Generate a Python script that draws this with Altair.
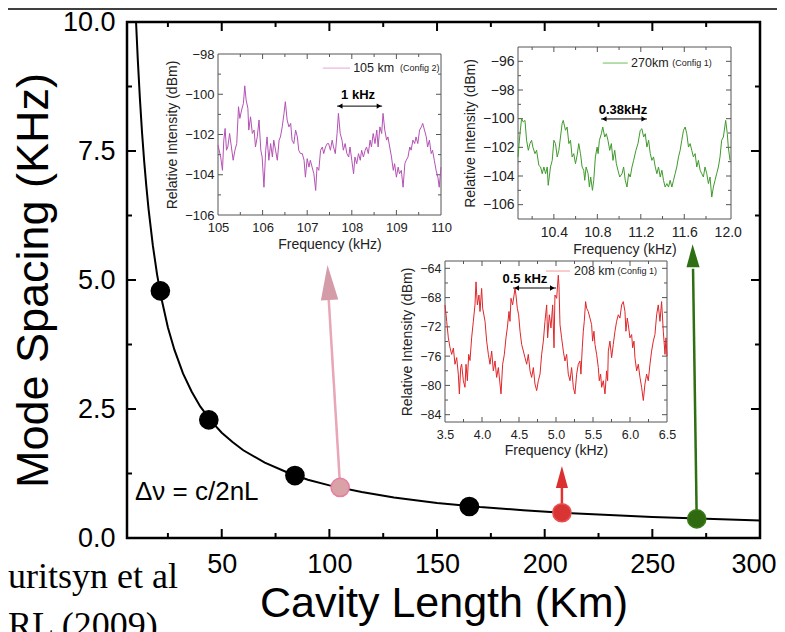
import altair as alt
import pandas as pd

FONT = "Liberation Sans"
SERIF = "Liberation Serif"
W, H = 633, 516

# ---------------- main panel data ----------------
CURVE_L = [10.2, 11, 12, 13, 14, 15, 16, 18, 20, 22, 25, 28, 32, 36, 40, 45, 50, 55, 60, 70,
           80, 90, 100, 115, 130, 150, 170, 190, 210, 230, 250, 275, 300]
CURVE_DV = [10.0, 9.28, 8.51, 7.85, 7.29, 6.81, 6.38, 5.67, 5.10, 4.64, 4.08, 3.65, 3.19, 2.84,
            2.55, 2.27, 2.04, 1.86, 1.70, 1.46, 1.28, 1.13, 1.02, 0.89, 0.785, 0.68, 0.60, 0.54,
            0.486, 0.444, 0.408, 0.371, 0.34]

PT_L = [21.5, 44, 84, 165, 105, 208, 270.6]
PT_DV = [4.79, 2.29, 1.21, 0.61, 0.98, 0.49, 0.37]
PT_FILL = ["#000000", "#000000", "#000000", "#000000", "#d8a2a6", "#d93434", "#2f6a10"]
PT_STROKE = ["#000000", "#000000", "#000000", "#000000", "#e77fa2", "#e85050", "#3b7a18"]

ARROW_TAIL_L = [105, 208, 270.6]
ARROW_TAIL_V = [0.98, 0.49, 0.37]
ARROW_BASE_L = [99.7, 208, 268.9]
ARROW_BASE_V = [4.62, 0.97, 5.22]
ARROW_LINE_COLOR = ["#e8a6b6", "#e03232", "#2f6e12"]
HEAD_L = [99.6, 208, 268.8]
HEAD_V = [4.95, 1.18, 5.47]
HEAD_SIZE = [1225, 484, 529]
HEAD_ANGLE = [356.6, 0, 359]
HEAD_SHAPE = ["M0,-1L-0.5,1L0.5,1Z", "M0,-1L-0.55,1L0.55,1Z", "M0,-1L-0.57,1L0.57,1Z"]
HEAD_COLOR = ["#d49ca8", "#dc3030", "#2f6e12"]

MAIN_X_LABELS = [50, 100, 150, 200, 250, 300]
MAIN_Y_LABELS = [0, 2.5, 5, 7.5, 10]
MAIN_X_MAJOR = [50, 100, 150, 200, 250]
MAIN_X_MINOR = [25, 75, 125, 175, 225, 275]
MAIN_Y_MAJOR = [2.5, 5, 7.5]
MAIN_Y_MINOR = [1.25, 3.75, 6.25, 8.75]

# ---------------- inset 1 : 105 km ----------------
PINK_F = [105.00, 105.06, 105.10, 105.13, 105.16, 105.19, 105.22, 105.26, 105.30, 105.34,
          105.38, 105.42, 105.46, 105.49, 105.53, 105.57, 105.60, 105.63, 105.67, 105.69,
          105.73, 105.77, 105.81, 105.84, 105.88, 105.92, 105.96, 105.99, 106.03, 106.07,
          106.10, 106.14, 106.18, 106.22, 106.25, 106.29, 106.33, 106.37, 106.40, 106.44,
          106.48, 106.51, 106.55, 106.59, 106.63, 106.66, 106.70, 106.74, 106.78, 106.81,
          106.85, 106.89, 106.93, 106.96, 107.00, 107.04, 107.07, 107.11, 107.15, 107.19,
          107.22, 107.26, 107.30, 107.34, 107.37, 107.41, 107.45,
          107.48, 107.52, 107.56, 107.59, 107.63, 107.67, 107.70, 107.74, 107.78, 107.81,
          107.85, 107.89, 107.93, 107.96, 108.00, 108.04, 108.07, 108.11, 108.15, 108.19,
          108.22, 108.26, 108.30, 108.33, 108.37, 108.41, 108.44, 108.48, 108.52, 108.56,
          108.59, 108.63, 108.67, 108.70, 108.74, 108.78, 108.81, 108.85, 108.89, 108.93,
          108.96, 109.00, 109.04, 109.07, 109.11, 109.15, 109.19, 109.22, 109.26, 109.30,
          109.33, 109.37, 109.41, 109.44, 109.48, 109.52, 109.56, 109.59, 109.63, 109.67,
          109.70, 109.74, 109.78, 109.81, 109.85, 109.89, 109.93, 109.96, 110.00]
PINK_DB = [-102.53, -103.12, -103.78, -102.28, -101.70, -102.78, -102.62, -101.95, -102.62, -103.28,
           -102.78, -102.45, -100.62, -101.20, -100.78, -100.45, -99.58, -100.28, -100.70, -101.78,
           -101.12, -101.95, -101.78, -102.62, -102.12, -101.28, -102.78, -103.12, -104.62, -102.78,
           -102.12, -103.28, -102.45, -103.12, -102.28, -102.78, -103.28, -102.28, -102.12, -101.62,
           -100.95, -100.37, -101.28, -101.62, -101.45, -102.28, -102.45, -101.78, -102.12, -102.78,
           -102.95, -102.95, -103.28, -104.12, -103.20, -103.62, -103.28, -103.62, -103.95, -104.78,
           -103.62, -103.78, -102.78, -102.62, -102.95, -102.62, -102.45,
           -102.45, -102.78, -102.28, -102.62, -102.95, -101.95, -100.95, -101.95, -102.28, -102.78,
           -102.45, -102.95, -103.12, -102.62, -103.28, -103.95, -103.12, -103.45, -102.95, -103.28,
           -102.78, -103.12, -102.78, -102.62, -102.95, -102.28, -102.62, -101.95, -102.45, -101.78,
           -102.62, -101.62, -101.95, -100.95, -101.78, -102.28, -102.12, -102.62, -103.12, -103.78,
           -103.45, -104.12, -103.62, -103.95, -103.78, -104.62, -103.45, -103.28, -103.12, -102.62,
           -102.78, -102.28, -102.45, -102.12, -102.45, -101.78, -101.62, -101.45, -101.78, -102.12,
           -102.62, -102.28, -102.95, -102.78, -103.28, -103.78, -104.12, -104.62, -103.62]

# ---------------- inset 2 : 270 km ----------------
GREEN_F = [10.07, 10.088, 10.103, 10.119, 10.134, 10.149, 10.165, 10.180, 10.195, 10.207,
           10.226, 10.241, 10.262, 10.278, 10.293, 10.308, 10.324, 10.339, 10.348, 10.369,
           10.385, 10.400, 10.415, 10.431, 10.446, 10.461, 10.476, 10.486, 10.507, 10.522,
           10.538, 10.553, 10.568, 10.583, 10.599, 10.614, 10.629, 10.645, 10.660, 10.675,
           10.684, 10.697, 10.715, 10.727, 10.739, 10.755, 10.767, 10.782, 10.798, 10.807,
           10.819, 10.837, 10.850, 10.868, 10.883, 10.898, 10.914, 10.929, 10.944, 10.960,
           10.975, 10.990, 11.006, 11.027, 11.042, 11.057, 11.073, 11.088, 11.103, 11.119,
           11.134, 11.155, 11.174, 11.195, 11.210, 11.226, 11.241, 11.256, 11.272, 11.287,
           11.302, 11.317, 11.333, 11.348, 11.363, 11.379, 11.394, 11.409, 11.424, 11.440,
           11.455, 11.470, 11.486, 11.501, 11.516, 11.531, 11.547, 11.562, 11.577, 11.593,
           11.608, 11.623, 11.639, 11.654, 11.669, 11.684, 11.700, 11.715, 11.730, 11.746,
           11.761, 11.776, 11.791, 11.807, 11.822, 11.837, 11.853, 11.868, 11.883, 11.898,
           11.914, 11.929, 11.944, 11.960, 11.981, 11.996, 12.005, 12.021]
GREEN_DB = [-102.67, -101.05, -100.00, -100.23, -100.12, -101.51, -102.21, -101.74, -101.51, -101.98,
            -102.44, -102.21, -103.26, -103.37, -103.84, -103.37, -103.84, -103.37, -104.65, -103.37,
            -102.91, -101.51, -101.74, -102.67, -102.21, -101.28, -100.35, -100.12, -100.81, -100.58,
            -101.74, -101.51, -102.67, -102.44, -103.14, -102.56, -101.74, -102.44, -103.37, -103.60,
            -104.30, -103.37, -103.84, -104.77, -104.07, -105.00, -104.30, -102.67, -101.98, -102.44,
            -101.51, -101.05, -100.58, -101.28, -101.05, -101.51, -102.21, -101.74, -102.91, -102.21,
            -103.14, -103.60, -104.07, -103.84, -103.37, -104.30, -104.77, -103.84, -104.07, -103.37,
            -102.91, -102.21, -101.74, -100.81, -100.70, -101.28, -101.05, -101.98, -101.51, -102.44,
            -102.91, -102.67, -103.37, -103.84, -103.37, -104.07, -103.60, -104.30, -104.77, -104.53,
            -104.77, -104.30, -104.77, -104.30, -103.84, -103.37, -102.67, -102.21, -101.51, -100.81,
            -100.58, -101.05, -101.98, -101.74, -102.21, -102.67, -102.44, -103.37, -102.91, -103.60,
            -103.84, -104.07, -103.37, -103.84, -104.53, -104.07, -105.47, -104.77, -104.30, -103.84,
            -103.37, -102.67, -101.51, -101.28, -100.12, -101.05, -101.98, -102.91]

# ---------------- inset 3 : 208 km ----------------
RED_F = [3.500, 3.523, 3.545, 3.568, 3.590, 3.613, 3.635, 3.658, 3.680, 3.694,
         3.712, 3.725, 3.748, 3.770, 3.784, 3.802, 3.820, 3.838, 3.860, 3.883,
         3.905, 3.919, 3.937, 3.959, 3.973, 3.995, 4.009, 4.041, 4.063, 4.086,
         4.108, 4.131, 4.153, 4.176, 4.198, 4.221, 4.257, 4.279, 4.302, 4.324,
         4.342, 4.365, 4.378, 4.392, 4.414, 4.446, 4.459, 4.477, 4.495, 4.514,
         4.536, 4.559, 4.581, 4.604, 4.626, 4.649, 4.671, 4.694, 4.716, 4.739,
         4.761, 4.784, 4.806, 4.829, 4.851, 4.874, 4.887, 4.910, 4.932, 4.955,
         4.973, 4.986, 5.009, 5.031, 5.040, 5.054, 5.076, 5.099, 5.121, 5.144,
         5.166, 5.189, 5.211, 5.234, 5.256, 5.279, 5.301, 5.324, 5.337, 5.355,
         5.369, 5.382, 5.400, 5.414, 5.436, 5.459, 5.481, 5.495, 5.513, 5.527,
         5.549, 5.572, 5.585, 5.603, 5.617, 5.639, 5.662, 5.684, 5.698, 5.707,
         5.729, 5.752, 5.774, 5.797, 5.819, 5.842, 5.864, 5.887, 5.909, 5.932,
         5.945, 5.963, 5.977, 5.999, 6.022, 6.036, 6.054, 6.067, 6.090, 6.112,
         6.135, 6.157, 6.180, 6.202, 6.225, 6.247, 6.270, 6.292, 6.315, 6.337,
         6.360, 6.382, 6.405, 6.427, 6.450, 6.473, 6.486, 6.500]
RED_DB = [-69.00, -71.25, -73.50, -74.86, -75.76, -74.90, -77.11, -76.20, -78.46, -81.16,
          -77.56, -77.11, -79.36, -80.26, -77.11, -79.36, -75.76, -76.60, -73.50, -71.25,
          -69.00, -65.85, -69.00, -67.65, -69.90, -66.75, -69.45, -71.25, -73.95, -75.76,
          -77.11, -75.31, -78.01, -76.66, -78.91, -77.56, -81.16, -77.11, -75.76, -73.50,
          -72.15, -69.90, -71.25, -68.10, -69.00, -66.75, -67.65, -69.45, -70.35, -72.60,
          -74.41, -75.31, -76.21, -77.11, -75.76, -78.01, -78.91, -77.56, -79.81, -80.71,
          -79.36, -78.46, -75.76, -73.95, -71.25, -69.00, -73.50, -70.35, -72.15, -69.00,
          -74.86, -67.65, -68.10, -64.95, -66.30, -71.70, -73.50, -75.31, -76.66, -75.76,
          -78.46, -79.36, -77.56, -80.26, -81.16, -78.46, -77.11, -76.66, -78.46, -74.86,
          -72.60, -71.25, -68.55, -69.45, -69.90, -70.80, -71.70, -73.95, -72.60, -74.41,
          -75.76, -77.56, -79.36, -78.46, -80.26, -79.36, -81.16, -78.01, -79.36, -75.31,
          -73.95, -76.21, -74.41, -72.60, -71.25, -70.35, -70.80, -69.00, -68.55, -69.90,
          -72.60, -70.80, -71.70, -73.50, -73.05, -74.86, -73.95, -76.21, -78.01, -77.11,
          -78.91, -80.26, -82.06, -79.81, -78.46, -79.36, -77.11, -75.31, -73.95, -73.05,
          -70.35, -69.00, -71.25, -68.55, -72.60, -75.76, -73.50, -76.00]


def tick_rules(xdom, ydom, xr, yr, xmaj, xmin, ymaj, ymin, lmaj, lmin):
    """Inward tick segments expressed in data units of the panel."""
    pxx = (xr[1] - xr[0]) / (xdom[1] - xdom[0])
    pxy = (yr[0] - yr[1]) / (ydom[1] - ydom[0])
    rows = []
    for vals, ln in ((xmaj, lmaj), (xmin, lmin)):
        for v in vals:
            rows.append(dict(x=v, x2=v, y=ydom[0], y2=ydom[0] + ln / pxy))
            rows.append(dict(x=v, x2=v, y=ydom[1], y2=ydom[1] - ln / pxy))
    for vals, ln in ((ymaj, lmaj), (ymin, lmin)):
        for v in vals:
            rows.append(dict(x=xdom[0], x2=xdom[0] + ln / pxx, y=v, y2=v))
            rows.append(dict(x=xdom[1], x2=xdom[1] - ln / pxx, y=v, y2=v))
    return pd.DataFrame(rows)


# ---------------- main panel ----------------
MX_DOM, MY_DOM = [6, 300], [0, 10]
mxs = alt.Scale(domain=MX_DOM, range=[0, W], nice=False, zero=False)
mys = alt.Scale(domain=MY_DOM, range=[H, 0], nice=False, zero=False)
mx_axis = alt.Axis(orient="bottom", values=MAIN_X_LABELS, format="d", labelFontSize=27,
                   labelFont=FONT, labelColor="black", labelPadding=13, ticks=False,
                   domain=False, grid=False, labelFlush=1, labelFlushOffset=16,
                   labelOverlap=False,
                   title="Cavity Length (Km)", titleFont=FONT, titleFontSize=43,
                   titleFontWeight="normal", titleColor="black", titlePadding=5)
my_axis = alt.Axis(orient="left", values=MAIN_Y_LABELS, format=".1f", labelFontSize=27,
                   labelFont=FONT, labelColor="black", labelPadding=12, ticks=False,
                   domain=False, grid=False, labelFlush=False, labelOverlap=False,
                   title="Mode Spacing (KHz)", titleFont=FONT, titleFontSize=45,
                   titleFontWeight="normal", titleColor="black", titlePadding=6)


def MX(f):
    return alt.X(f, type="quantitative", scale=mxs, axis=mx_axis)


def MY(f):
    return alt.Y(f, type="quantitative", scale=mys, axis=my_axis)


curve_df = pd.DataFrame({"L": CURVE_L, "dv": CURVE_DV})
pts_df = pd.DataFrame({"L": PT_L, "dv": PT_DV, "fill": PT_FILL, "stroke": PT_STROKE})
arrow_df = pd.DataFrame({"L": ARROW_TAIL_L, "v": ARROW_TAIL_V, "L2": ARROW_BASE_L,
                         "v2": ARROW_BASE_V, "c": ARROW_LINE_COLOR})
head_df = pd.DataFrame({"L": HEAD_L, "v": HEAD_V, "size": HEAD_SIZE, "angle": HEAD_ANGLE,
                        "shape": HEAD_SHAPE, "c": HEAD_COLOR})
mticks = tick_rules(MX_DOM, MY_DOM, [0, W], [H, 0], MAIN_X_MAJOR, MAIN_X_MINOR,
                    MAIN_Y_MAJOR, MAIN_Y_MINOR, 9, 5)

main_curve = alt.Chart(curve_df).mark_line(color="black", strokeWidth=2, clip=True).encode(
    x=MX("L"), y=MY("dv"))
main_ticks = alt.Chart(mticks).mark_rule(color="black", strokeWidth=2).encode(
    x=MX("x"), x2="x2", y=MY("y"), y2="y2")
main_arrows = alt.Chart(arrow_df).mark_rule(strokeWidth=2.5).encode(
    x=MX("L"), x2="L2", y=MY("v"), y2="v2", color=alt.Color("c:N", scale=None))
main_heads = alt.Chart(head_df).mark_point(filled=True, opacity=1).encode(
    x=MX("L"), y=MY("v"), size=alt.Size("size:Q", scale=None),
    angle=alt.Angle("angle:Q", scale=None), shape=alt.Shape("shape:N", scale=None),
    color=alt.Color("c:N", scale=None))
main_pts = alt.Chart(pts_df).mark_point(filled=True, size=330, opacity=1, strokeWidth=1.5).encode(
    x=MX("L"), y=MY("dv"), fill=alt.Fill("fill:N", scale=None),
    stroke=alt.Stroke("stroke:N", scale=None))
formula = alt.Chart(pd.DataFrame({"L": [9.7], "v": [0.74], "t": ["Δν = c/2nL"]})).mark_text(
    align="left", baseline="alphabetic", font=FONT, fontSize=26, color="black").encode(
    x=MX("L"), y=MY("v"), text="t:N")
top_line = alt.Chart(pd.DataFrame({"a": [0]})).mark_rule(color="black", strokeWidth=1.5).encode(
    x=alt.value(-119), x2=alt.value(650), y=alt.value(-13))
authors = alt.Chart(pd.DataFrame({"t": ["uritsyn et al", "RL (2009)"],
                                  "py": [566, 615]})).mark_text(
    align="left", baseline="alphabetic", font=SERIF, fontSize=36, color="black").encode(
    x=alt.value(-119), y=alt.Y("py:Q", scale=None), text="t:N")

main = alt.layer(main_curve, main_ticks, main_arrows, main_heads, main_pts, formula,
                 top_line, authors)


# ---------------- insets ----------------
def inset(xdom, ydom, xr, yr, f, db, color, xlab, ylab, xfmt, xmaj, xmin, ymaj, ymin,
          label_size, leg, note):
    xs = alt.Scale(domain=xdom, range=xr, nice=False, zero=False)
    ys = alt.Scale(domain=ydom, range=yr, nice=False, zero=False)
    xa = alt.Axis(orient="bottom", offset=-(H - yr[0]), values=xlab, format=xfmt,
                  labelFontSize=label_size, labelFont=FONT, labelColor="#222", labelPadding=6,
                  ticks=False, domain=False, grid=False, labelFlush=False, labelOverlap=False,
                  title="Frequency (kHz)", titleFont=FONT, titleFontSize=14,
                  titleFontWeight="normal", titleColor="#222", titlePadding=3)
    ya = alt.Axis(orient="left", offset=-xr[0], values=ylab, format="d",
                  labelFontSize=label_size, labelFont=FONT, labelColor="#222", labelPadding=4,
                  ticks=False, domain=False, grid=False, labelFlush=False, labelOverlap=False,
                  title="Relative Intensity (dBm)", titleFont=FONT, titleFontSize=14,
                  titleFontWeight="normal", titleColor="#222", titlePadding=5)

    def X(fl):
        return alt.X(fl, type="quantitative", scale=xs, axis=xa)

    def Y(fl):
        return alt.Y(fl, type="quantitative", scale=ys, axis=ya)

    frame = alt.Chart(pd.DataFrame({"x": [xdom[0]], "x2": [xdom[1]], "y": [ydom[0]],
                                    "y2": [ydom[1]]})).mark_rect(
        fill="white", stroke="#555", strokeWidth=1).encode(x=X("x"), x2="x2", y=Y("y"), y2="y2")
    tk = alt.Chart(tick_rules(xdom, ydom, xr, yr, xmaj, xmin, ymaj, ymin, 5, 3)).mark_rule(
        color="#555", strokeWidth=1).encode(x=X("x"), x2="x2", y=Y("y"), y2="y2")
    line = alt.Chart(pd.DataFrame({"f": f, "v": db})).mark_line(
        color=color, strokeWidth=1, clip=True).encode(x=X("f"), y=Y("v"))
    # legend
    (lx0, lx1, ly, lcol, t1x, t1, t2x, t2) = leg
    leg_line = alt.Chart(pd.DataFrame({"x": [lx0], "x2": [lx1], "y": [ly]})).mark_rule(
        color=lcol, strokeWidth=1).encode(x=X("x"), x2="x2", y=Y("y"))
    leg_t1 = alt.Chart(pd.DataFrame({"x": [t1x], "y": [ly], "t": [t1]})).mark_text(
        align="left", baseline="middle", font=FONT, fontSize=12.5, color="#222").encode(
        x=X("x"), y=Y("y"), text="t:N")
    leg_t2 = alt.Chart(pd.DataFrame({"x": [t2x], "y": [ly], "t": [t2]})).mark_text(
        align="left", baseline="middle", font=FONT, fontSize=9, color="#222").encode(
        x=X("x"), y=Y("y"), text="t:N")
    # spacing annotation (double arrow)
    (ax0, ax1, ay, tx, ty, txt, hd) = note
    ann_line = alt.Chart(pd.DataFrame({"x": [ax0], "x2": [ax1], "y": [ay]})).mark_rule(
        color="black", strokeWidth=1).encode(x=X("x"), x2="x2", y=Y("y"))
    ann_heads = alt.Chart(pd.DataFrame({"x": [ax0 + hd, ax1 - hd], "y": [ay, ay],
                                        "s": ["triangle-left", "triangle-right"]})).mark_point(
        filled=True, color="black", size=28, opacity=1).encode(
        x=X("x"), y=Y("y"), shape=alt.Shape("s:N", scale=None))
    ann_text = alt.Chart(pd.DataFrame({"x": [tx], "y": [ty], "t": [txt]})).mark_text(
        align="center", baseline="middle", font=FONT, fontSize=13, fontWeight="bold",
        color="black").encode(x=X("x"), y=Y("y"), text="t:N")
    return alt.layer(frame, tk, line, leg_line, leg_t1, leg_t2, ann_line, ann_heads, ann_text)


in1 = inset([105, 110], [-106, -98], [91, 314], [193, 32], PINK_F, PINK_DB, "#b452b4",
            [105, 106, 107, 108, 109, 110], [-98, -100, -102, -104, -106], "d",
            [106, 107, 108, 109], [105.5, 106.5, 107.5, 108.5, 109.5],
            [-100, -102, -104], [-99, -101, -103, -105], 13,
            (107.35, 107.96, -98.70, "#e2a6d6", 108.03, "105 km", 109.08, "(Config 2)"),
            (107.67, 108.68, -100.59, 108.14, -100.04, "1 kHz", 0.07))
in2 = inset([10.07, 12.03], [-107, -95], [391, 604], [197, 25], GREEN_F, GREEN_DB, "#3f9a2c",
            [10.4, 10.8, 11.2, 11.6, 12.0], [-96, -98, -100, -102, -104, -106], ".1f",
            [10.4, 10.8, 11.2, 11.6], [10.2, 10.6, 11.0, 11.4, 11.8],
            [-96, -98, -100, -102, -104, -106], [-97, -99, -101, -103, -105], 14,
            (10.85, 11.08, -96.12, "#6ebd5c", 11.11, "270km", 11.49, "(Config 1)"),
            (10.834, 11.257, -100.02, 11.036, -99.4, "0.38kHz", 0.03))
in3 = inset([3.5, 6.5], [-85, -63], [318, 540], [400, 239], RED_F, RED_DB, "#e0262a",
            [3.5, 4.0, 4.5, 5.0, 5.5, 6.0, 6.5], [-64, -68, -72, -76, -80, -84], ".1f",
            [4.0, 4.5, 5.0, 5.5, 6.0], [3.75, 4.25, 4.75, 5.25, 5.75, 6.25],
            [-64, -68, -72, -76, -80, -84], [-66, -70, -74, -78, -82], 12.5,
            (4.865, 5.19, -64.37, "#f29a9a", 5.243, "208 km", 5.83, "(Config 1)"),
            (4.42, 5.0, -66.69, 4.58, -65.46, "0.5 kHz", 0.05))

chart = alt.layer(main, in1, in2, in3).resolve_scale(
    x="independent", y="independent"
).properties(
    width=W, height=H,
    autosize=alt.AutoSizeParams(type="none"),
    padding={"left": 119, "top": 14, "right": 17, "bottom": 110},
).configure_view(stroke="black", strokeWidth=2.5)

chart.save("out.html", embed_options={"renderer": "svg", "actions": False})
